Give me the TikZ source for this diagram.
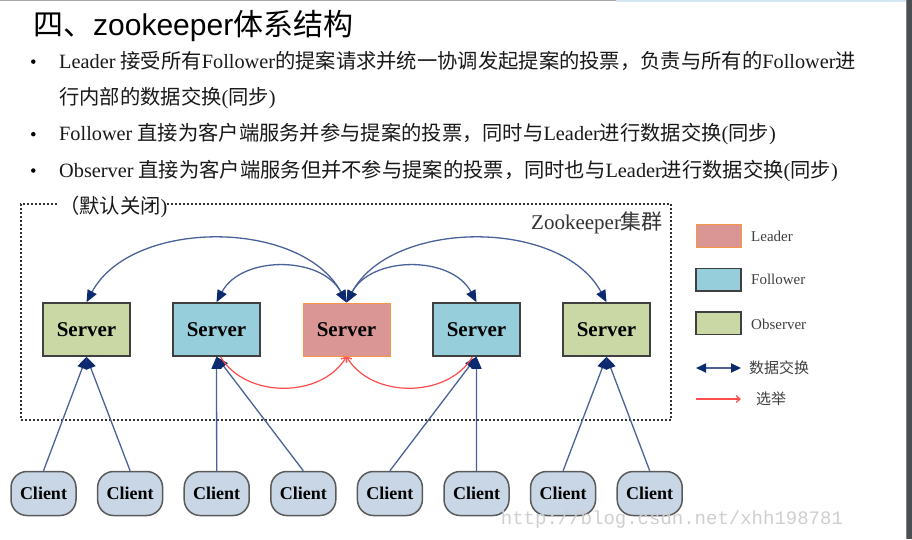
\documentclass[tikz,border=0pt]{standalone}
\usepackage{fontspec}
\setmainfont{Liberation Serif}
\newfontfamily\cjk{Noto Sans CJK SC}
\newfontfamily\hsans{Liberation Sans}
\newfontfamily\wmono{Liberation Mono}
\usetikzlibrary{arrows.meta}
\definecolor{obsfill}{HTML}{C9D8A5}
\definecolor{folfill}{HTML}{96CEDB}
\definecolor{leadfill}{HTML}{D99694}
\definecolor{leadborder}{HTML}{F79646}
\definecolor{boxborder}{HTML}{404040}
\definecolor{clientfill}{HTML}{C8D6E6}
\definecolor{clientborder}{HTML}{5A5A5A}
\definecolor{linkcol}{HTML}{4A6299}
\definecolor{tipcol}{HTML}{0C2A6E}
\definecolor{elect}{HTML}{FF4D4D}
\definecolor{wmark}{HTML}{CFCFCF}
\definecolor{topgray}{HTML}{A8A8A8}
\definecolor{topblue}{HTML}{D4E6F1}
\definecolor{sidebar}{HTML}{4B4F54}
\tikzset{
  srv/.style={draw=boxborder, line width=1.5pt, minimum width=87pt, minimum height=53pt,
    inner sep=0pt, font=\fontsize{21}{21}\selectfont\bfseries},
  cli/.style={draw=clientborder, fill=clientfill, line width=1.5pt, rounded corners=16pt,
    minimum width=65pt, minimum height=44pt, inner sep=0pt,
    font=\fontsize{18}{18}\selectfont\bfseries},
  txt/.style={anchor=base west, inner sep=0pt, font=\fontsize{20.3}{20.3}\selectfont, text=black!90},
  legbox/.style={draw=boxborder, line width=1.5pt, minimum width=45pt, minimum height=22.5pt, inner sep=0pt},
  link/.style={draw=linkcol, line width=1.3pt, -{Triangle[length=12pt,width=10pt,color=tipcol]}},
  xchg/.style={draw=linkcol, line width=1.3pt,
    {Triangle[length=12pt,width=10pt,color=tipcol]}-{Triangle[length=12pt,width=10pt,color=tipcol]}},
  vote/.style={draw=elect, line width=1.2pt, -{Straight Barb[length=4pt,width=7pt]}},
  legtxt/.style={anchor=west, inner sep=0pt, font=\fontsize{15}{15}\selectfont, text=black!75},
  bul/.style={circle, fill=black, inner sep=0pt, minimum size=4.5pt},
  clusterbox/.style={draw=black!80, line width=2pt, dash pattern=on 1.8pt off 2.2pt,
    minimum width=650pt, minimum height=216pt, inner sep=0pt},
}
\begin{document}
\begin{tikzpicture}[x=1pt,y=-1pt]
\useasboundingbox (0,0) rectangle (912,539);
\fill[white] (0,0) rectangle (912,539);
% window edges
\fill[topgray] (0,0) rectangle (616,1.2);
\fill[topblue] (616,0) rectangle (906,1.5);
\fill[sidebar] (906,0) rectangle (912,539);
\fill[gray] (905.5,0) rectangle (906.5,539);

% title
\node[anchor=base west, inner sep=0pt, font=\fontsize{30}{30}\selectfont] (title) at (33,35.5)
  {{\cjk 四、}{\hsans zookeeper}{\cjk 体系结构}};

% bullets and text
\node[bul] (b1) at (33.3,61.6) {};
\node[bul] (b3) at (33.3,134.2) {};
\node[bul] (b4) at (33.3,170.5) {};
\node[txt] (l1) at (59,68.3) {Leader {\cjk 接受所有}Follower{\cjk 的提案请求并统一协调发起提案的投票，负责与所有的}Follower{\cjk 进}};
\node[txt] (l2) at (59,104.6) {{\cjk 行内部的数据交换}({\cjk 同步})};
\node[txt] (l3) at (59,140.9) {Follower {\cjk 直接为客户端服务并参与提案的投票，同时与}Leader{\cjk 进行数据交换}({\cjk 同步})};
\node[txt] (l4) at (59,177.2) {Observer {\cjk 直接为客户端服务但并不参与提案的投票，同时也与}Leader{\cjk 进行数据交换}({\cjk 同步})};

% cluster box
\node[clusterbox] (cluster) at (346,312) {};
\node[txt, fill=white] (l5) at (59,213.5) {{\cjk （默认关闭})};
\node[anchor=base west, inner sep=0pt, font=\fontsize{21}{21}\selectfont, text=black!80] (zklabel)
  at (531,229.5) {Zookeeper{\cjk 集群}};

% servers
\node[srv, fill=obsfill] (s1) at (86.5,329.5) {Server};
\node[srv, fill=folfill] (s2) at (216.5,329.5) {Server};
\node[srv, fill=leadfill, draw=leadborder, line width=1pt] (s3) at (346.5,329.5) {Server};
\node[srv, fill=folfill] (s4) at (476.5,329.5) {Server};
\node[srv, fill=obsfill] (s5) at (606.5,329.5) {Server};

% clients
\foreach \i in {1,...,8} {
  \node[cli] (c\i) at ({43.5+86.6*(\i-1)},493.5) {Client};
}

% client links
\draw[link] (c1.north) -- (s1.south);
\draw[link] (c2.north) -- (s1.south);
\draw[link] (c3.north) -- (s2.south);
\draw[link] (c4.north) -- (s2.south);
\draw[link] (c5.north) -- (s4.south);
\draw[link] (c6.north) -- (s4.south);
\draw[link] (c7.north) -- (s5.south);
\draw[link] (c8.north) -- (s5.south);

% data exchange arcs
\draw[xchg] (s1.north) .. controls +(45,-84) and +(-45,-84) .. (s3.north);
\draw[xchg] (s2.north) .. controls +(25,-47) and +(-25,-47) .. (s3.north);
\draw[xchg] (s3.north) .. controls +(25,-47) and +(-25,-47) .. (s4.north);
\draw[xchg] (s3.north) .. controls +(45,-84) and +(-45,-84) .. (s5.north);

% election arcs
\draw[vote] ([xshift=4pt]s2.south) .. controls +(25,42) and +(-25,42) .. (s3.south);
\draw[vote] ([xshift=-4pt]s4.south) .. controls +(-25,42) and +(25,42) .. (s3.south);

% legend
\node[legbox, fill=leadfill, draw=leadborder, line width=1pt] (kl) at (718.5,236) {};
\node[legbox, fill=folfill] (kf) at (718.5,279.5) {};
\node[legbox, fill=obsfill] (ko) at (718.5,323) {};
\node[legtxt] (tl) at (751,236) {Leader};
\node[legtxt] (tf) at (751,279.5) {Follower};
\node[legtxt] (to) at (751,324) {Observer};
\coordinate (xa) at (696,368);
\coordinate (xb) at (741,368);
\draw[draw=linkcol, line width=1.8pt,
  {Triangle[length=10pt,width=9pt,color=tipcol]}-{Triangle[length=10pt,width=9pt,color=tipcol]}] (xa) -- (xb);
\node[legtxt, font=\cjk\fontsize{15}{15}\selectfont] (tx) at (749,368) {数据交换};
\coordinate (ea) at (696,399);
\coordinate (eb) at (741,399);
\draw[vote] (ea) -- (eb);
\node[legtxt, font=\cjk\fontsize{15}{15}\selectfont] (te) at (756,399) {选举};

% watermark
\node[anchor=base west, inner sep=0pt, font=\wmono\fontsize{19}{19}\selectfont, text=wmark] (wm)
  at (500.7,524) {http://blog.csdn.net/xhh198781};
\end{tikzpicture}
\end{document}
